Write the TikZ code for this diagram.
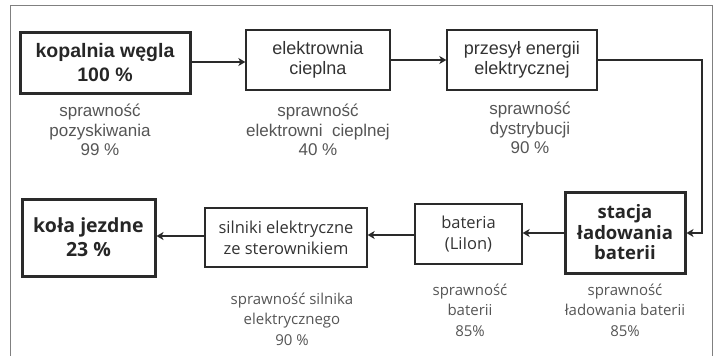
\documentclass[tikz,border=0pt]{standalone}
\usepackage{fontspec}
\setmainfont{Liberation Sans}
\newfontfamily\lowfont{Open Sans}
\usetikzlibrary{arrows.meta}

\definecolor{framegray}{HTML}{808080}
\definecolor{boxtext}{HTML}{333333}
\definecolor{labeltext}{HTML}{555555}
\definecolor{linedark}{HTML}{2A2A2A}

\tikzset{
  box/.style={draw=linedark, line width=1.3pt, rectangle, align=center,
    inner sep=0pt, text=boxtext, font=\fontsize{18}{20.5}\selectfont},
  mainbox/.style={box, line width=3pt, text=black!85,
    font=\fontsize{19.5}{24}\selectfont\bfseries},
  lowbox/.style={box, font=\fontsize{16.5}{21}\selectfont\lowfont},
  lowmain/.style={mainbox, font=\fontsize{18.5}{20.5}\selectfont\lowfont\bfseries},
  lowmainwide/.style={mainbox, font=\fontsize{19.5}{24}\selectfont\lowfont\bfseries},
  note/.style={align=center, text=labeltext, inner sep=0pt,
    font=\fontsize{17}{19.5}\selectfont},
  lownote/.style={note, font=\fontsize{15}{20.5}\selectfont\lowfont},
  arr/.style={draw=linedark, line width=1.3pt,
    -{Stealth[length=7pt, width=8pt, inset=2pt]}},
  frame/.style={draw=framegray, line width=1pt}
}

\begin{document}
\begin{tikzpicture}[x=1pt, y=-1pt]
\useasboundingbox (0,0) rectangle (721,356);

% outer frame (open at the bottom)
\draw[frame] (10,356) -- (10,5) -- (712,5) -- (712,356);

% upper chain
\node[mainbox, minimum width=170pt, minimum height=61pt] (mine) at (105,62.5)
  {kopalnia węgla\\100 \%};
\node[box, minimum width=144pt, minimum height=60pt] (plant) at (318,60)
  {elektrownia\\cieplna};
\node[box, minimum width=150pt, minimum height=60pt] (grid) at (522,60)
  {przesył energii\\elektrycznej};

% lower chain
\node[lowmain, minimum width=120pt, minimum height=81pt] (station) at (625,232.5)
  {stacja\\ładowania\\baterii};
\node[lowbox, minimum width=107pt, minimum height=60pt] (battery) at (468.5,234)
  {bateria\\(LiIon)};
\node[lowbox, minimum width=162pt, minimum height=59pt] (motors) at (286,237.5)
  {silniki elektryczne\\ze sterownikiem};
\node[lowmainwide, minimum width=133pt, minimum height=77pt] (wheels) at (88.5,237.5)
  {koła jezdne\\23 \%};

% efficiency notes
\node[note] (n1) at (100,130) {sprawność\\pozyskiwania\\99 \%};
\node[note] (n2) at (318,130) {sprawność\\elektrowni\ \ cieplnej\\40 \%};
\node[note] (n3) at (530,128) {sprawność\\dystrybucji\\90 \%};
\node[lownote] (n4) at (625,310) {sprawność\\ładowania baterii\\85\%};
\node[lownote] (n5) at (470,310) {sprawność\\baterii\\85\%};
\node[lownote] (n6) at (292,319) {sprawność silnika\\elektrycznego\\90 \%};

% connectors
\coordinate (bendA) at (702,60);
\coordinate (bendB) at (702,233);
\draw[arr] (mine.east |- 0,62) -- (plant.west |- 0,62);
\draw[arr] (plant.east) -- (grid.west);
\draw[arr] (grid.east) -- (bendA) -- (bendB) -- (station.east |- bendB);
\draw[arr] (station.west |- 0,233) -- (battery.east |- 0,233);
\draw[arr] (battery.west |- 0,235) -- (motors.east |- 0,235);
\draw[arr] (motors.west |- 0,236) -- (wheels.east |- 0,236);
\end{tikzpicture}
\end{document}
